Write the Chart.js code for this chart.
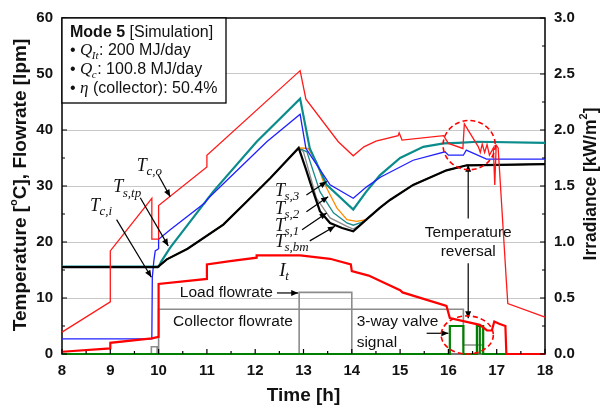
<!DOCTYPE html>
<html>
<head>
<meta charset="utf-8">
<script src="https://cdn.jsdelivr.net/npm/chart.js@4.4.1/dist/chart.umd.min.js"></script>
<style>
  html, body { margin: 0; padding: 0; background: #fff; }
  #wrap { width: 605px; height: 413px; }
</style>
</head>
<body>
<div id="wrap"><canvas id="c" width="605" height="413"></canvas></div>
<script>
// ---- axis ticks ----
const hourTicks = [8, 9, 10, 11, 12, 13, 14, 15, 16, 17, 18];
const tempTicks = [0, 10, 20, 30, 40, 50, 60];
const irrTicks = [0, 0.5, 1.0, 1.5, 2.0, 2.5, 3.0];

// ---- collector outlet temperature T_c,o [°C] ----
const tcoTime = [8, 9.0, 9.0, 9.86, 9.86, 10.0, 10.0, 11.0, 11.0, 12.93, 13.05, 13.72, 14.03, 14.25, 14.5, 14.96, 14.98, 15.04, 15.9, 16.0, 16.3, 16.33, 16.62, 16.66, 16.70, 16.75, 16.80, 16.85, 16.93, 16.96, 16.99, 17.03, 17.2, 17.23, 18];
const tcoVal  = [3.9, 9.3, 18.4, 27.8, 20.5, 20.5, 26.5, 33.4, 35.5, 50.6, 45.5, 37.9, 35.4, 37.0, 38.0, 39.0, 39.5, 38.2, 39.0, 37.6, 36.7, 41.1, 37.0, 36.0, 37.5, 36.0, 37.4, 35.5, 36.8, 30.2, 37.3, 36.8, 13.0, 9.0, 6.6];

// ---- collector inlet temperature T_c,i [°C] ----
const tciTime = [8, 9.86, 9.87, 9.9, 9.93, 10.0, 10.0, 10.24, 10.96, 11.0, 11.03, 12.24, 12.93, 13.05, 13.55, 14.03, 14.3, 14.6, 15.27, 15.93, 16.0, 16.31, 16.37, 16.79, 18];
const tciVal  = [2.7, 2.7, 13.7, 16.5, 18.4, 18.8, 20.5, 22.2, 27.0, 27.5, 27.8, 37.9, 42.8, 36.7, 30.2, 27.8, 29.8, 31.6, 34.6, 36.1, 35.5, 35.5, 36.4, 34.8, 34.8];

// ---- storage tank top T_s,tp [°C] ----
const tstpTime = [8, 10.0, 10.06, 10.24, 11.13, 12.03, 12.93, 13.13, 13.48, 14.03, 14.3, 14.58, 15.0, 15.48, 15.9, 16.2, 16.6, 18];
const tstpVal  = [15.6, 15.6, 16.6, 19.0, 29.0, 37.9, 45.6, 36.7, 30.2, 25.8, 29.0, 31.9, 35.0, 37.0, 37.6, 37.7, 37.9, 37.7];

// ---- storage tank bottom T_s,bm [°C] ----
const tsbmTime = [8, 9.98, 10.17, 10.6, 11.34, 11.8, 12.31, 12.9, 13.05, 13.2, 13.34, 13.55, 13.8, 14.03, 14.3, 14.58, 14.79, 15.27, 15.96, 16.38, 18];
const tsbmVal  = [15.5, 15.5, 16.9, 18.8, 23.1, 27.0, 31.4, 36.8, 33.0, 29.0, 25.5, 23.4, 22.5, 21.9, 24.0, 26.1, 27.5, 30.2, 32.8, 33.7, 33.9];

// ---- storage tank layers T_s,1 / T_s,2 / T_s,3 [°C] ----
const ts1Time = [8, 9.98, 10.17, 10.6, 11.34, 11.8, 12.31, 12.9, 13.0, 13.27, 13.55, 13.9, 14.03, 14.2, 14.3, 14.58, 14.79, 15.27, 15.96, 16.38, 18];
const ts1Val  = [15.5, 15.5, 16.9, 18.8, 23.1, 27.0, 31.4, 36.8, 36.1, 27.8, 24.3, 22.8, 22.3, 23.2, 24.0, 26.1, 27.5, 30.2, 32.8, 33.7, 33.9];
const ts2Time = [8, 9.98, 10.17, 10.6, 11.34, 11.8, 12.31, 12.9, 13.07, 13.34, 13.62, 13.9, 14.03, 14.2, 14.3, 14.58, 14.79, 15.27, 15.96, 16.38, 18];
const ts2Val  = [15.5, 15.5, 16.9, 18.8, 23.1, 27.0, 31.4, 36.8, 36.1, 29.0, 25.2, 23.4, 23.0, 23.5, 24.0, 26.1, 27.5, 30.2, 32.8, 33.7, 33.9];
const ts3Time = [8, 9.98, 10.17, 10.6, 11.34, 11.8, 12.31, 12.9, 13.1, 13.27, 13.41, 13.69, 13.9, 14.1, 14.3, 14.58, 14.79, 15.27, 15.96, 16.38, 18];
const ts3Val  = [15.5, 15.5, 16.9, 18.8, 23.1, 27.0, 31.4, 36.8, 36.7, 34.3, 30.8, 26.1, 24.0, 23.7, 24.0, 26.1, 27.5, 30.2, 32.8, 33.7, 33.9];

// ---- irradiance I_t [kW/m²] ----
const irrTime = [8, 9.0, 9.0, 9.86, 10.0, 10.0, 11.0, 11.0, 11.48, 12.03, 12.03, 12.93, 13.55, 13.98, 14.0, 14.35, 14.58, 15.0, 15.05, 15.96, 16.03, 16.65, 16.8, 16.9, 16.95, 17.05, 17.18, 17.2, 18];
const irrVal  = [0.02, 0.05, 0.10, 0.14, 0.153, 0.625, 0.67, 0.80, 0.83, 0.86, 0.88, 0.88, 0.85, 0.80, 0.74, 0.70, 0.655, 0.57, 0.55, 0.43, 0.32, 0.26, 0.21, 0.21, 0.29, 0.27, 0.25, 0, 0];

// ---- flowrates [lpm] ----
const collFlowTime = [8, 9.85, 9.85, 9.97, 9.97, 10.0, 10.0, 16.31, 16.31, 16.72, 16.72, 18];
const collFlowVal  = [0, 0, 1.3, 1.3, 0, 0, 8.0, 8.0, 1.6, 1.6, 0, 0];
const loadFlowTime = [8, 12.91, 12.91, 14.0, 14.0, 18];
const loadFlowVal  = [0, 0, 11.0, 11.0, 0, 0];

// ---- 3-way valve signal ----
const valveTime = [8, 16.03, 16.03, 16.31, 16.31, 16.59, 16.59, 16.65, 16.65, 16.65, 16.72, 16.72, 18];
const valveVal  = [0, 0, 5, 5, 0, 0, 5, 5, 0, 5, 5, 0, 0];

const pts = (ts, vs) => ts.map((t, i) => ({ x: t, y: vs[i] }));

function series(label, ts, vs, color, width, axis) {
  return {
    label, data: pts(ts, vs), borderColor: color, borderWidth: width,
    pointRadius: 0, tension: 0, fill: false, clip: false,
    yAxisID: axis || 'y'
  };
}

const SANS = "'Liberation Sans', Arial, sans-serif";
const SERIF = "'Liberation Serif', 'Times New Roman', serif";

// text with an italic symbol and subscript
function symbol(ctx, x, y, main, sub, mSize, sSize) {
  ctx.textBaseline = 'middle';
  ctx.textAlign = 'left';
  ctx.font = 'italic ' + mSize + 'px ' + SERIF;
  ctx.fillText(main, x, y);
  const w = ctx.measureText(main).width;
  let sw = 0;
  if (sub) {
    ctx.font = 'italic ' + sSize + 'px ' + SERIF;
    ctx.fillText(sub, x + w - 0.5, y + mSize * 0.3);
    sw = ctx.measureText(sub).width;
  }
  return x + w + sw;
}

// runs of text drawn one after another: [text, font, dy]
function runs(ctx, x, y, parts) {
  ctx.textBaseline = 'middle';
  ctx.textAlign = 'left';
  for (const [txt, font, dy] of parts) {
    ctx.font = font;
    ctx.fillText(txt, x, y + (dy || 0));
    x += ctx.measureText(txt).width;
  }
  return x;
}

function centeredRuns(ctx, parts) {
  let tw = 0;
  for (const p of parts) { ctx.font = p[1]; tw += ctx.measureText(p[0]).width; }
  runs(ctx, -tw / 2, 0, parts);
}

function arrow(ctx, x1, y1, x2, y2) {
  ctx.beginPath(); ctx.moveTo(x1, y1); ctx.lineTo(x2, y2); ctx.stroke();
  const a = Math.atan2(y2 - y1, x2 - x1), L = 7, W = 3;
  ctx.beginPath();
  ctx.moveTo(x2, y2);
  ctx.lineTo(x2 - L * Math.cos(a) + W * Math.sin(a), y2 - L * Math.sin(a) - W * Math.cos(a));
  ctx.lineTo(x2 - L * Math.cos(a) - W * Math.sin(a), y2 - L * Math.sin(a) + W * Math.cos(a));
  ctx.closePath(); ctx.fill();
}

const frame = {
  id: 'frame',
  beforeDatasetsDraw(chart) {
    const { ctx, chartArea: a } = chart;
    ctx.save();
    ctx.strokeStyle = '#000'; ctx.lineWidth = 1.5;
    ctx.strokeRect(a.left, a.top, a.right - a.left, a.bottom - a.top);
    ctx.restore();
  },
  afterDatasetsDraw(chart) {
    const { ctx, chartArea: a, scales: { x, y, y2 } } = chart;
    const X = t => x.getPixelForValue(t), Y = v => y.getPixelForValue(v);
    ctx.save();
    ctx.strokeStyle = '#000'; ctx.fillStyle = '#000'; ctx.lineWidth = 1.2;

    // inward tick marks
    ctx.beginPath();
    for (let t = 8; t <= 18.001; t += 0.5) {
      const len = Math.abs(t - Math.round(t)) < 1e-6 ? 5 : 3;
      ctx.moveTo(X(t), a.bottom); ctx.lineTo(X(t), a.bottom - len);
    }
    for (let v = 0; v <= 60.001; v += 5) {
      const len = v % 10 === 0 ? 5 : 3;
      ctx.moveTo(a.left, Y(v)); ctx.lineTo(a.left + len, Y(v));
    }
    for (let v = 0; v <= 3.001; v += 0.25) {
      const len = Math.abs(v * 2 - Math.round(v * 2)) < 1e-6 ? 5 : 3;
      ctx.moveTo(a.right, y2.getPixelForValue(v)); ctx.lineTo(a.right - len, y2.getPixelForValue(v));
    }
    ctx.stroke();

    // info box
    const bx = a.left, by = a.top, bw = 164, bh = 85;
    ctx.fillStyle = '#fff';
    ctx.fillRect(bx, by, bw, bh);
    ctx.strokeStyle = '#000'; ctx.lineWidth = 1.3;
    ctx.strokeRect(bx, by, bw, bh);
    ctx.fillStyle = '#111';
    runs(ctx, bx + 8, by + 15, [['Mode 5', 'bold 16px ' + SANS], [' [Simulation]', '16px ' + SANS]]);
    let cx = runs(ctx, bx + 8, by + 33, [['\u2022 ', '16px ' + SANS]]);
    cx = symbol(ctx, cx, by + 33, 'Q', 'It', 17, 11);
    runs(ctx, cx, by + 33, [[': 200 MJ/day', '16px ' + SANS]]);
    cx = runs(ctx, bx + 8, by + 52, [['\u2022 ', '16px ' + SANS]]);
    cx = symbol(ctx, cx, by + 52, 'Q', 'c', 17, 11);
    runs(ctx, cx, by + 52, [[': 100.8 MJ/day', '16px ' + SANS]]);
    cx = runs(ctx, bx + 8, by + 71, [['\u2022 ', '16px ' + SANS]]);
    cx = symbol(ctx, cx, by + 71, '\u03b7', '', 17, 11);
    runs(ctx, cx, by + 71, [[' (collector): 50.4%', '16px ' + SANS]]);

    // curve labels
    ctx.fillStyle = '#111';
    symbol(ctx, X(9.55), Y(33.6), 'T', 'c,o', 18, 13);
    symbol(ctx, X(9.06), Y(29.7), 'T', 's,tp', 18, 13);
    symbol(ctx, X(8.58), Y(26.4), 'T', 'c,i', 18, 13);
    symbol(ctx, X(12.41), Y(29.0), 'T', 's,3', 18, 13);
    symbol(ctx, X(12.41), Y(25.8), 'T', 's,2', 18, 13);
    symbol(ctx, X(12.41), Y(22.8), 'T', 's,1', 18, 13);
    symbol(ctx, X(12.41), Y(19.9), 'T', 's,bm', 18, 13);
    symbol(ctx, X(12.5), Y(14.8), 'I', 't', 19, 13);

    // arrows
    ctx.strokeStyle = '#000'; ctx.fillStyle = '#000'; ctx.lineWidth = 1.2;
    arrow(ctx, X(9.99), Y(32.0), X(10.24), Y(28.1));
    arrow(ctx, X(9.62), Y(27.9), X(10.2), Y(19.3));
    arrow(ctx, X(9.13), Y(24.0), X(9.85), Y(13.7));
    arrow(ctx, X(13.06), Y(28.4), X(13.48), Y(30.8));
    arrow(ctx, X(13.06), Y(25.4), X(13.51), Y(28.1));
    arrow(ctx, X(12.97), Y(22.2), X(13.48), Y(25.2));
    arrow(ctx, X(13.13), Y(20.2), X(13.65), Y(22.8));
    arrow(ctx, X(12.45), Y(10.9), X(12.89), Y(10.9));
    arrow(ctx, X(15.55), Y(3.7), X(16.0), Y(3.7));
    arrow(ctx, X(16.41), Y(24.2), X(16.41), Y(33.8));
    arrow(ctx, X(16.41), Y(16.2), X(16.41), Y(6.4));

    // text notes
    ctx.fillStyle = '#111';
    ctx.font = '15.5px ' + SANS;
    ctx.textBaseline = 'middle';
    ctx.textAlign = 'left';
    ctx.fillText('Load flowrate', X(10.44), Y(10.9));
    ctx.fillText('Collector flowrate', X(10.3), Y(5.7));
    ctx.fillText('3-way valve', X(14.1), Y(5.7));
    ctx.fillText('signal', X(14.1), Y(2.1));
    ctx.textAlign = 'center';
    ctx.fillText('Temperature', X(16.41), Y(21.6));
    ctx.fillText('reversal', X(16.41), Y(18.3));

    // dashed rings around the reversal
    ctx.strokeStyle = '#ff0000'; ctx.lineWidth = 1.6; ctx.setLineDash([5, 3]);
    const ring = (t, v, dt, dv) => {
      ctx.beginPath();
      ctx.ellipse(X(t), Y(v), X(t + dt) - X(t), Y(v) - Y(v + dv), 0, 0, Math.PI * 2);
      ctx.stroke();
    };
    ring(16.43, 37.3, 0.54, 4.4);
    ring(16.39, 3.4, 0.54, 3.4);
    ctx.setLineDash([]);

    // axis titles
    ctx.fillStyle = '#111';
    ctx.save();
    ctx.translate(21, 185); ctx.rotate(-Math.PI / 2);
    centeredRuns(ctx, [['Temperature [', 'bold 19px ' + SANS], ['o', 'bold 11px ' + SANS, -7], ['C], Flowrate [lpm]', 'bold 19px ' + SANS]]);
    ctx.restore();

    ctx.save();
    ctx.translate(591, 184); ctx.rotate(-Math.PI / 2);
    centeredRuns(ctx, [['Irradiance [kW/m', 'bold 17.5px ' + SANS], ['2', 'bold 11px ' + SANS, -7], [']', 'bold 17.5px ' + SANS]]);
    ctx.restore();

    ctx.font = 'bold 19px ' + SANS;
    ctx.textAlign = 'center';
    ctx.textBaseline = 'middle';
    ctx.fillText('Time [h]', (a.left + a.right) / 2, 396);
    ctx.restore();
  }
};

Chart.defaults.font.family = SANS;
Chart.defaults.color = '#111';

new Chart(document.getElementById('c'), {
  type: 'line',
  data: {
    datasets: [
      series('I_t', irrTime, irrVal, '#ff0000', 2.2, 'y2'),
      series('T_c,o', tcoTime, tcoVal, '#ff1a1a', 1.3),
      series('3-way valve signal', valveTime, valveVal, '#008000', 2.2),
      series('T_s,bm', tsbmTime, tsbmVal, '#000000', 2.2),
      series('T_c,i', tciTime, tciVal, '#2020ff', 1.3),
      series('T_s,tp', tstpTime, tstpVal, '#0a8c8c', 2.2),
      series('T_s,3', ts3Time, ts3Val, '#ff8c00', 1.3),
      series('T_s,2', ts2Time, ts2Val, '#1a8a8a', 1.3),
      series('T_s,1', ts1Time, ts1Val, '#8a8a8a', 1.3),
      series('Load flowrate', loadFlowTime, loadFlowVal, '#8c8c8c', 1.6),
      series('Collector flowrate', collFlowTime, collFlowVal, '#8c8c8c', 1.6)
    ]
  },
  options: {
    responsive: false,
    animation: false,
    events: [],
    layout: { padding: { top: 15, left: 0, right: 0, bottom: 0 } },
    plugins: { legend: { display: false }, tooltip: { enabled: false } },
    scales: {
      x: {
        type: 'linear', min: 8, max: 18,
        afterBuildTicks: s => { s.ticks = hourTicks.map(v => ({ value: v })); },
        afterFit: s => { s.height = 59; },
        grid: { display: false, drawTicks: false },
        border: { display: false },
        ticks: { font: { size: 15, weight: 'bold' }, padding: 8, maxRotation: 0, color: '#111' }
      },
      y: {
        position: 'left', min: 0, max: 60,
        afterBuildTicks: s => { s.ticks = tempTicks.map(v => ({ value: v })); },
        afterFit: s => { s.width = 62; },
        grid: {
          drawTicks: false,
          color: c => (c.tick && c.tick.value > 0 && c.tick.value < 60) ? '#c8c8c8' : 'rgba(0,0,0,0)',
          lineWidth: 1
        },
        border: { display: false },
        ticks: { font: { size: 15, weight: 'bold' }, padding: 9, color: '#111' }
      },
      y2: {
        position: 'right', min: 0, max: 3,
        afterBuildTicks: s => { s.ticks = irrTicks.map(v => ({ value: v })); },
        afterFit: s => { s.width = 60; },
        grid: { display: false, drawTicks: false },
        border: { display: false },
        ticks: { font: { size: 15, weight: 'bold' }, padding: 9, color: '#111', callback: v => Number(v).toFixed(1) }
      }
    }
  },
  plugins: [frame]
});
</script>
</body>
</html>
